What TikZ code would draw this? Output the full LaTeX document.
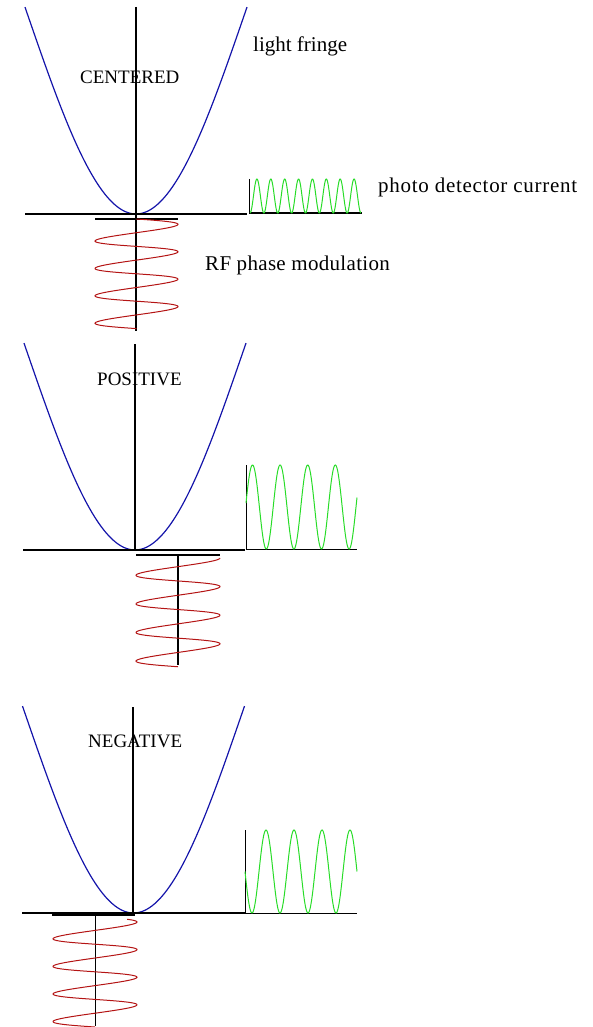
\documentclass[tikz,border=0pt]{standalone}
\usepackage{fontspec}
\setmainfont{Liberation Serif}
\usepackage{xcolor}
\definecolor{fringeblue}{RGB}{20,20,170}
\definecolor{rfred}{RGB}{180,20,20}
\definecolor{pdgreen}{RGB}{40,220,40}

\begin{document}
\begin{tikzpicture}[x=1pt,y=-1pt,
    axis/.style={line width=2pt},
    thinaxis/.style={line width=1pt},
    fringe/.style={fringeblue,line width=1.2pt},
    rfwave/.style={rfred,line width=1pt},
    pdwave/.style={pdgreen,line width=1pt},
    lbl/.style={inner sep=0pt,anchor=base west,font=\fontsize{21}{24}\selectfont},
    mode/.style={inner sep=0pt,anchor=base west,font=\fontsize{19}{22}\selectfont}]
    \useasboundingbox (0,0) rectangle (592,1027);
    % ---- centered
    \draw[fringe] plot[domain=-111:111,samples=90] ({136+\x},{214-201*(1-cos(0.8259*\x))});
    \draw[axis] (135.5,7) -- (135.5,331);
    \draw[axis] (25,214) -- (247,214);
    \draw[axis] (95,219) -- (178,219);
    \draw[rfwave] plot[domain=-90:1350,samples=240] ({136.5+41.5*cos(\x)},{225.85+13.7*(\x/180)-1.5*cos(\x)});
    \draw[thinaxis] (249,179) -- (249,213);
    \draw[line width=1.5pt] (249,213) -- (362,213);
    \draw[pdwave] plot[domain=250:361,samples=240] (\x,{213-17*(1-cos((\x-250)/13.875*360))});
    \node[mode] (centered) at (80,84) {CENTERED};
    \node[lbl] (fringe) at (253,52) {light fringe};
    \node[lbl] (current) at (378,193) {\addfontfeature{LetterSpace=3.4}photo detector current};
    \node[lbl] (rfmod) at (205,270) {\addfontfeature{LetterSpace=1.5}RF phase modulation};
    % ---- positive
    \draw[fringe] plot[domain=-111:111,samples=90] ({135+\x},{550-201*(1-cos(0.8259*\x))});
    \draw[axis] (134.5,344) -- (134.5,550);
    \draw[line width=1.3pt] (23,550) -- (245,550);
    \draw[axis] (136,555) -- (220,555);
    \draw[axis] (178,555) -- (178,665);
    \draw[rfwave] plot[domain=0:1350,samples=240] ({178+42*cos(\x)},{559.5+14.3*(\x/180)-1.5*cos(\x)});
    \draw[thinaxis] (246,465) -- (246,549) -- (357,549);
    \draw[pdwave] plot[domain=246:357,samples=200] (\x,{549-42*(1+cos((\x-252.5)/27.6*360))});
    \node[mode] (positive) at (97,385) {POSITIVE};
    % ---- negative
    \draw[fringe] plot[domain=-111:111,samples=90] ({133.5+\x},{913-201*(1-cos(0.8259*\x))});
    \draw[axis] (133,707) -- (133,913);
    \draw[axis] (22,913) -- (245,913);
    \draw[axis] (52,915) -- (135,915);
    \draw[thinaxis] (95,915) -- (95,1026);
    \draw[rfwave] plot[domain=-40:1350,samples=240] ({95+42*cos(\x)},{923.5+13.8*(\x/180)-1.5*cos(\x)});
    \draw[thinaxis] (245,830) -- (245,913) -- (357,913);
    \draw[pdwave] plot[domain=245:357,samples=200] (\x,{913-41.5*(1-cos((\x-252)/28*360))});
    \node[mode] (negative) at (88,747) {NEGATIVE};
\end{tikzpicture}
\end{document}
